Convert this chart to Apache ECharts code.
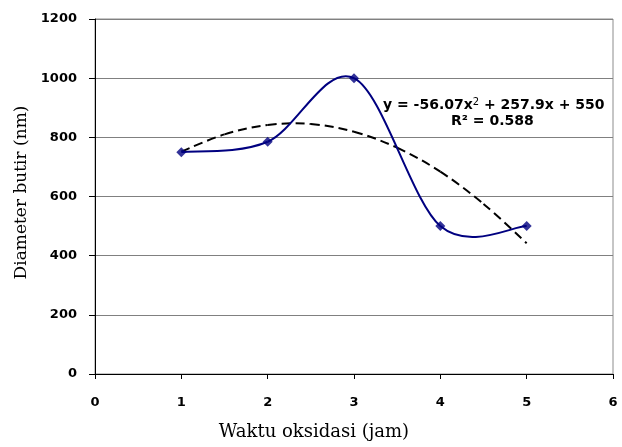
<!DOCTYPE html>
<html>
<head>
<meta charset="utf-8">
<script src="https://cdn.jsdelivr.net/npm/echarts@6/dist/echarts.min.js"></script>
<style>html,body{margin:0;padding:0;background:#fff}#c{width:622px;height:447px}</style>
</head>
<body>
<div id="c"></div>
<script>
// Data
const waktu = [1, 2, 3, 4, 5];
const diameter = [750, 785, 1000, 500, 500];
// Polynomial trendline
const trendX = [1, 1.5, 2, 2.5, 3, 3.5, 4, 4.5, 5];
const trendY = [752, 810, 842, 845, 819, 765, 684, 575, 442];
const xTicks = [0, 1, 2, 3, 4, 5, 6];
const yTicks = [0, 200, 400, 600, 800, 1000, 1200];
const eqText = 'y = -56.07x';
const eqText2 = ' + 257.9x + 550';
const r2Text = 'R² = 0.588';
const xName = 'Waktu oksidasi (jam)';
const yName = 'Diameter butir (nm)';

// Excel-style smoothed curve (Catmull-Rom Bezier) through the data, positioned by the chart's scales
function smoothRenderer(xs, ys, style) {
  return function (params, api) {
    if (params.dataIndex !== 0) return null;
    const pts = xs.map((x, i) => api.coord([x, ys[i]]));
    const n = pts.length;
    const children = [];
    for (let i = 0; i < n - 1; i++) {
      const p0 = pts[Math.max(i - 1, 0)], p1 = pts[i], p2 = pts[i + 1], p3 = pts[Math.min(i + 2, n - 1)];
      children.push({
        type: 'bezierCurve',
        shape: {
          x1: p1[0], y1: p1[1], x2: p2[0], y2: p2[1],
          cpx1: p1[0] + (p2[0] - p0[0]) / 6, cpy1: p1[1] + (p2[1] - p0[1]) / 6,
          cpx2: p2[0] - (p3[0] - p1[0]) / 6, cpy2: p2[1] - (p3[1] - p1[1]) / 6
        },
        style: Object.assign({fill: null}, style)
      });
    }
    return {type: 'group', children: children};
  };
}

const chart = echarts.init(document.getElementById('c'), null, {renderer: 'canvas'});
const tickFont = {fontFamily: 'DejaVu Sans', fontWeight: 'bold', fontSize: 13, color: '#000'};
chart.setOption({
  animation: false,
  grid: {left: 95, right: 9, top: 19, bottom: 73, show: true, borderColor: '#8c8c8c', borderWidth: 1, backgroundColor: '#fff'},
  xAxis: {
    type: 'value', min: xTicks[0], max: xTicks[xTicks.length - 1], interval: 1,
    axisLine: {show: true, onZero: false, lineStyle: {color: '#000', width: 1}},
    axisTick: {show: true, length: 5, lineStyle: {color: '#000'}},
    splitLine: {show: false},
    axisLabel: Object.assign({margin: 22}, tickFont),
    name: xName, nameLocation: 'middle', nameGap: 49,
    nameTextStyle: {fontFamily: 'DejaVu Serif', fontSize: 18, color: '#000', padding: [0, 80, 0, 0]}
  },
  yAxis: {
    type: 'value', min: yTicks[0], max: yTicks[yTicks.length - 1], interval: 200,
    axisLine: {show: true, lineStyle: {color: '#000', width: 1}},
    axisTick: {show: true, length: 6, lineStyle: {color: '#000'}},
    splitLine: {show: true, lineStyle: {color: '#808080', width: 1}},
    axisLabel: Object.assign({margin: 18, formatter: v => String(v)}, tickFont),
    name: yName, nameLocation: 'middle', nameGap: 65,
    nameTextStyle: {fontFamily: 'DejaVu Serif', fontSize: 17, color: '#000', padding: [0, 0, 0, 8]}
  },
  graphic: [{
    type: 'text', left: 383, top: 97,
    style: {
      text: '{a|' + eqText + '}{s|2}{a|' + eqText2 + '}',
      rich: {
        a: {fontFamily: 'DejaVu Sans', fontWeight: 'bold', fontSize: 14, fill: '#000'},
        s: {fontFamily: 'DejaVu Sans', fontSize: 10, fill: '#000', verticalAlign: 'top', padding: [0, 0, 6, 0]}
      }
    }
  }, {
    type: 'text', left: 451, top: 114,
    style: {text: r2Text, font: 'bold 14px DejaVu Sans', fill: '#000'}
  }],
  series: [{
    type: 'custom', coordinateSystem: 'cartesian2d',
    data: trendX.map((x, i) => [x, trendY[i]]),
    renderItem: smoothRenderer(trendX, trendY, {stroke: '#000', lineWidth: 2, lineDash: [9, 5]}),
    z: 2
  }, {
    type: 'custom', coordinateSystem: 'cartesian2d',
    data: waktu.map((x, i) => [x, diameter[i]]),
    renderItem: smoothRenderer(waktu, diameter, {stroke: '#000080', lineWidth: 2}),
    z: 3
  }, {
    type: 'scatter', data: waktu.map((x, i) => [x, diameter[i]]),
    symbol: 'diamond', symbolSize: 10,
    itemStyle: {color: '#000080'}, z: 4
  }]
});
</script>
</body>
</html>
